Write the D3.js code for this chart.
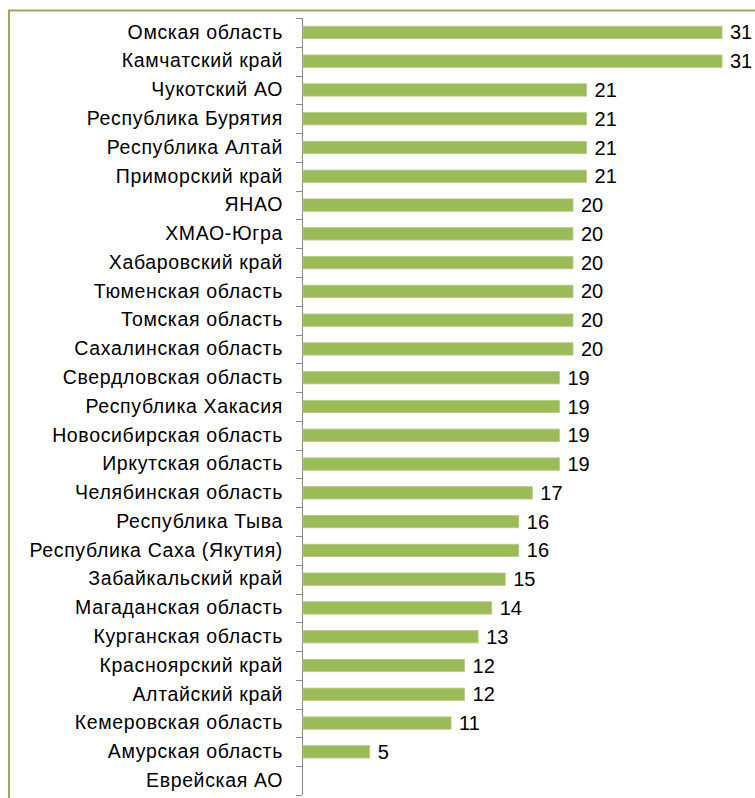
<!DOCTYPE html>
<html>
<head>
<meta charset="utf-8">
<script src="https://cdn.jsdelivr.net/npm/d3@7"></script>
<style>
body { margin: 0; background: #fff; overflow: hidden; }
text { font-family: "Liberation Sans", Arial, sans-serif; }
</style>
</head>
<body>
<script>
var width = 755;
var height = 798;

var regions = [
    'Омская область', 'Камчатский край', 'Чукотский АО', 'Республика Бурятия',
    'Республика Алтай', 'Приморский край', 'ЯНАО', 'ХМАО-Югра',
    'Хабаровский край', 'Тюменская область', 'Томская область', 'Сахалинская область',
    'Свердловская область', 'Республика Хакасия', 'Новосибирская область', 'Иркутская область',
    'Челябинская область', 'Республика Тыва', 'Республика Саха (Якутия)', 'Забайкальский край',
    'Магаданская область', 'Курганская область', 'Красноярский край', 'Алтайский край',
    'Кемеровская область', 'Амурская область', 'Еврейская АО'
];
var values = [31, 31, 21, 21, 21, 21, 20, 20, 20, 20, 20, 20,
    19, 19, 19, 19, 17, 16, 16, 15, 14, 13, 12, 12, 11, 5, null];

var dataset = regions.map(function(r, i) { return { name: r, value: values[i] }; });

var axisX = 302;

var xScale = d3.scaleLinear()
    .domain([0, 31])
    .range([axisX, 722]);

var yScale = d3.scaleBand()
    .domain(regions)
    .range([18, 795])
    .paddingInner(0.57)
    .paddingOuter(0.285);

var svg = d3.select('body')
    .append('svg')
    .attr('width', width)
    .attr('height', height);

// chart frame
svg.append('rect')
    .attr('x', 9)
    .attr('y', 10.5)
    .attr('width', width + 20)
    .attr('height', height + 20)
    .attr('fill', 'none')
    .attr('stroke', '#93ab5f')
    .attr('stroke-width', 2);

var yAxis = d3.axisLeft(yScale)
    .tickSize(0)
    .tickPadding(19);

var gy = svg.append('g')
    .attr('transform', 'translate(' + axisX + ',0)')
    .call(yAxis);
gy.select('.domain').remove();
gy.selectAll('text')
    .attr('font-size', '19.5px')
    .attr('letter-spacing', '0.65px')
    .attr('fill', '#000')
    .attr('font-family', '"Liberation Sans", Arial, sans-serif');

// axis line + tick marks at band boundaries
var step = yScale.step();
var y0 = yScale.range()[0];
svg.append('line')
    .attr('x1', axisX + 0.5).attr('x2', axisX + 0.5)
    .attr('y1', y0).attr('y2', y0 + step * regions.length)
    .attr('stroke', '#898989');
svg.append('g')
    .selectAll('line')
    .data(d3.range(regions.length + 1))
    .enter()
    .append('line')
    .attr('x1', axisX - 6).attr('x2', axisX)
    .attr('y1', function(i) { return Math.round(y0 + i * step) + 0.5; })
    .attr('y2', function(i) { return Math.round(y0 + i * step) + 0.5; })
    .attr('stroke', '#898989');

var bars = dataset.filter(function(d) { return d.value != null; });

svg.append('g')
    .selectAll('rect')
    .data(bars)
    .enter()
    .append('rect')
    .attr('x', xScale(0) + 1)
    .attr('y', function(d) { return yScale(d.name); })
    .attr('width', function(d) { return xScale(d.value) - xScale(0) - 1; })
    .attr('height', yScale.bandwidth())
    .attr('fill', '#9bbb59')
    .attr('stroke', '#b3cc86')
    .attr('stroke-width', 0.8);

svg.append('g')
    .selectAll('text')
    .data(bars)
    .enter()
    .append('text')
    .attr('x', function(d) { return xScale(d.value) + 8; })
    .attr('y', function(d) { return yScale(d.name) + yScale.bandwidth() / 2; })
    .attr('dy', '0.35em')
    .attr('font-size', '20px')
    .attr('fill', '#000')
    .text(function(d) { return d.value; });
</script>
</body>
</html>
